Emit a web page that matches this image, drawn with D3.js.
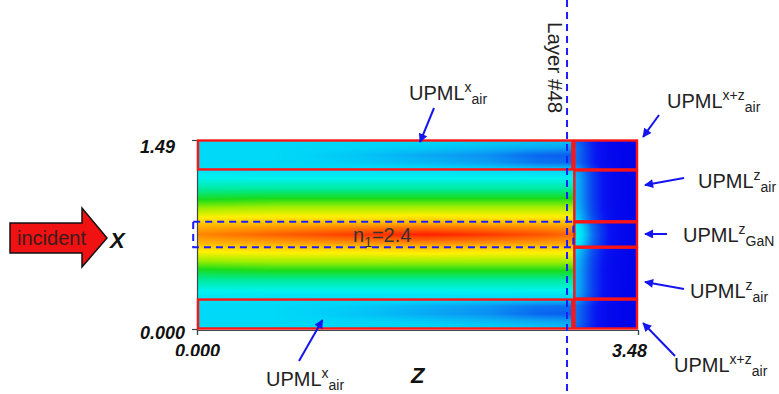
<!DOCTYPE html>
<html>
<head>
<meta charset="utf-8">
<script src="https://cdn.jsdelivr.net/npm/d3@7/dist/d3.min.js"></script>
<style>
  html, body { margin: 0; padding: 0; background: #fff; }
  svg { display: block; }
  text { font-family: "Liberation Sans", Arial, sans-serif; }
</style>
</head>
<body>
<svg id="chart" width="779" height="394"></svg>
<script>
// ---- Domain and layer geometry (µm) ----
const zDomain = [0, 3.48];
const xDomain = [0, 1.49];
const zTicks = [0, 3.48];
const xTicks = [0, 1.49];
const zTickLabels = ["0.000", "3.48"];
const xTickLabels = ["0.000", "1.49"];
const pmlStartZ = 2.97;          // start of the z-direction UPML
const layer48Z = 2.92;           // monitor plane "Layer #48"
const pmlLowX = 0.236;           // bottom x-UPML boundary
const pmlHighX = 1.254;          // top x-UPML boundary
const ganLowX = 0.645;           // GaN core lower edge
const ganHighX = 0.845;          // GaN core upper edge

// ---- Field samples: transverse profiles at several z stations ----
const xSamples = [0, 0.06, 0.12, 0.18, 0.236, 0.30, 0.38, 0.46, 0.54, 0.62, 0.68, 0.745,
                  0.81, 0.87, 0.95, 1.03, 1.11, 1.19, 1.254, 1.31, 1.37, 1.43, 1.49];
const zStations = [0, 0.6, 1.3, 1.8, 2.3, 2.7, 2.97];
const fieldZ0   = [0.35,0.35,0.35,0.35,0.37,0.40,0.45,0.51,0.58,0.66,0.73,0.78,0.73,0.66,0.58,0.51,0.45,0.40,0.37,0.35,0.35,0.35,0.35];
const fieldZ06  = [0.35,0.35,0.35,0.35,0.36,0.40,0.45,0.52,0.59,0.67,0.75,0.82,0.75,0.67,0.59,0.52,0.45,0.40,0.36,0.35,0.35,0.35,0.35];
const fieldZ13  = [0.35,0.34,0.32,0.33,0.36,0.40,0.45,0.52,0.59,0.67,0.77,0.87,0.77,0.67,0.59,0.52,0.45,0.40,0.36,0.33,0.32,0.34,0.35];
const fieldZ18  = [0.35,0.33,0.29,0.30,0.36,0.40,0.45,0.52,0.59,0.68,0.78,0.90,0.78,0.68,0.59,0.52,0.45,0.40,0.36,0.31,0.29,0.33,0.35];
const fieldZ23  = [0.34,0.31,0.26,0.27,0.35,0.40,0.45,0.52,0.59,0.67,0.77,0.87,0.77,0.67,0.59,0.52,0.45,0.40,0.35,0.28,0.26,0.31,0.34];
const fieldZ27  = [0.33,0.29,0.21,0.23,0.34,0.40,0.45,0.52,0.59,0.67,0.76,0.84,0.76,0.67,0.59,0.52,0.45,0.40,0.34,0.23,0.21,0.29,0.33];
const fieldZ297 = [0.32,0.28,0.20,0.22,0.34,0.40,0.45,0.52,0.59,0.67,0.75,0.81,0.75,0.67,0.59,0.52,0.45,0.40,0.34,0.22,0.20,0.28,0.32];
const fieldColumns = [fieldZ0, fieldZ06, fieldZ13, fieldZ18, fieldZ23, fieldZ27, fieldZ297];

// Field entering the z-UPML, and its attenuation with depth into the UPML
const pmlEntry  = [0.22,0.24,0.24,0.24,0.30,0.32,0.32,0.32,0.33,0.36,0.42,0.44,0.42,0.36,0.33,0.32,0.32,0.32,0.30,0.24,0.24,0.24,0.22];
const pmlDepth  = [0, 0.05, 0.10, 0.15, 0.22, 0.30, 0.40, 0.51];
const pmlFactor = [1, 0.88, 0.70, 0.52, 0.35, 0.20, 0.10, 0.06];

// Jet-style colour map
const colorStops = [0.00, 0.10, 0.20, 0.28, 0.34, 0.40, 0.46, 0.52, 0.58, 0.65, 0.73, 0.81, 0.90, 1.00];
const colorValues = ["#0000e8", "#0812f2", "#0a5cf0", "#0aa0f4", "#00d4f8", "#00f2f0", "#00ea94",
                     "#1adc1a", "#a0ee00", "#fff000", "#ffb400", "#ff6a00", "#ff1e00", "#e00000"];

// ---- Layout ----
const svg = d3.select("#chart");
const W = 779, H = 394;
svg.append("rect").attr("width", W).attr("height", H).attr("fill", "#fff");

const zScale = d3.scaleLinear().domain(zDomain).range([197, 638]);
const xScale = d3.scaleLinear().domain(xDomain).range([329, 140]);
const color = d3.scaleLinear().domain(colorStops).range(colorValues)
  .interpolate(d3.interpolateRgb).clamp(true);

// ---- Field map rendered to a canvas and embedded in the SVG ----
const px0 = zScale(zDomain[0]), px1 = zScale(zDomain[1]);
const py0 = xScale(xDomain[1]), py1 = xScale(xDomain[0]);
const cw = Math.round(px1 - px0), ch = Math.round(py1 - py0);
const canvas = document.createElement("canvas");
canvas.width = cw; canvas.height = ch;
const ctx = canvas.getContext("2d");
const img = ctx.createImageData(cw, ch);

const columnScales = fieldColumns.map(col => d3.scaleLinear().domain(xSamples).range(col).clamp(true));
const entryScale = d3.scaleLinear().domain(xSamples).range(pmlEntry).clamp(true);
const decayScale = d3.scaleLinear().domain(pmlDepth).range(pmlFactor).clamp(true);

for (let j = 0; j < ch; j++) {
  const x = xScale.invert(py0 + j + 0.5);
  const rowVals = columnScales.map(s => s(x));
  const zInterp = d3.scaleLinear().domain(zStations).range(rowVals).clamp(true);
  const entry = entryScale(x);
  for (let i = 0; i < cw; i++) {
    const z = zScale.invert(px0 + i + 0.5);
    const v = z <= pmlStartZ ? zInterp(z) : entry * decayScale(z - pmlStartZ);
    const c = d3.rgb(color(v));
    const k = (j * cw + i) * 4;
    img.data[k] = c.r; img.data[k + 1] = c.g; img.data[k + 2] = c.b; img.data[k + 3] = 255;
  }
}
ctx.putImageData(img, 0, 0);
svg.append("image")
  .attr("x", px0).attr("y", py0).attr("width", cw).attr("height", ch)
  .attr("preserveAspectRatio", "none")
  .attr("href", canvas.toDataURL());

// ---- Axes ----
const axisLeft = d3.axisLeft(xScale).tickValues(xTicks).tickSize(5).tickPadding(3)
  .tickFormat((d, i) => xTickLabels[i]);
const gL = svg.append("g").attr("transform", `translate(${px0},0)`).call(axisLeft);
const axisBottom = d3.axisBottom(zScale).tickValues(zTicks).tickSize(5).tickPadding(3)
  .tickFormat((d, i) => zTickLabels[i]);
const gB = svg.append("g").attr("transform", `translate(0,${py1 + 1})`).call(axisBottom);

[gL, gB].forEach(g => {
  g.select(".domain").attr("stroke", "#3a4a4e").attr("stroke-width", 1.2);
  g.selectAll(".tick line").attr("stroke", "#3a4a4e").attr("stroke-width", 1.2);
  g.selectAll(".tick text")
    .attr("font-family", "'Liberation Sans', Arial, sans-serif")
    .attr("font-size", 18).attr("font-weight", "bold").attr("font-style", "italic")
    .attr("fill", "#111");
});
gL.selectAll(".tick text")
  .attr("dx", (d, i) => i === 0 ? -4 : -14)
  .attr("dy", (d, i) => i === 0 ? "0.5em" : "0.67em");
gB.selectAll(".tick text").attr("dy", "1.05em")
  .attr("dx", (d, i) => i === 0 ? 0 : -9);

// The lower-left label sits partly under the frame edge (clip in tick-local units)
svg.append("clipPath").attr("id", "zeroClip")
  .append("rect").attr("x", -60).attr("y", -10).attr("width", 120).attr("height", 36);
gB.selectAll(".tick").filter((d, i) => i === 0).attr("clip-path", "url(#zeroClip)");

// ---- UPML / layer boxes ----
const boxes = [
  { z0: 0, z1: pmlStartZ, x0: pmlHighX, x1: xDomain[1] },
  { z0: 0, z1: pmlStartZ, x0: xDomain[0], x1: pmlLowX },
  { z0: pmlStartZ, z1: zDomain[1], x0: pmlHighX, x1: xDomain[1] },
  { z0: pmlStartZ, z1: zDomain[1], x0: ganHighX, x1: pmlHighX },
  { z0: pmlStartZ, z1: zDomain[1], x0: ganLowX, x1: ganHighX },
  { z0: pmlStartZ, z1: zDomain[1], x0: pmlLowX, x1: ganLowX },
  { z0: pmlStartZ, z1: zDomain[1], x0: xDomain[0], x1: pmlLowX }
];
svg.append("g").selectAll("rect").data(boxes).join("rect")
  .attr("x", d => zScale(d.z0) + 1)
  .attr("y", d => xScale(d.x1) + 0.5)
  .attr("width", d => zScale(d.z1) - zScale(d.z0) - 2)
  .attr("height", d => xScale(d.x0) - xScale(d.x1) - 1)
  .attr("fill", "none").attr("stroke", "#ff1414").attr("stroke-width", 2.4);

// GaN core outline (dashed)
svg.append("rect")
  .attr("x", zScale(-0.03)).attr("y", xScale(ganHighX))
  .attr("width", zScale(pmlStartZ) - zScale(-0.03))
  .attr("height", xScale(ganLowX) - xScale(ganHighX))
  .attr("fill", "none").attr("stroke", "#1c1cff").attr("stroke-width", 2)
  .attr("stroke-dasharray", "7,5");

// Layer #48 monitor plane
svg.append("line")
  .attr("x1", zScale(layer48Z)).attr("x2", zScale(layer48Z))
  .attr("y1", 0).attr("y2", H)
  .attr("stroke", "#1c1cff").attr("stroke-width", 2).attr("stroke-dasharray", "7,5");
svg.append("text")
  .attr("transform", `translate(${zScale(layer48Z) - 19},22) rotate(90)`)
  .attr("font-size", 20.5).attr("fill", "#222").text("Layer #48");

// Core index label
const nLabel = svg.append("text")
  .attr("x", 353).attr("y", 242).attr("font-size", 20).attr("fill", "#333");
nLabel.append("tspan").text("n");
nLabel.append("tspan").attr("font-size", 14).attr("dy", 5).text("1");
nLabel.append("tspan").attr("dy", -5).text("=2.4");

// ---- Axis letters ----
svg.append("text").attr("x", 110).attr("y", 248)
  .attr("font-size", 22).attr("font-weight", "bold").attr("font-style", "italic")
  .attr("fill", "#111").text("X");
svg.append("text").attr("x", 411).attr("y", 383)
  .attr("font-size", 22).attr("font-weight", "bold").attr("font-style", "italic")
  .attr("fill", "#111").text("Z");

// ---- Incident-wave arrow ----
svg.append("path")
  .attr("d", "M10,223 L82,223 L82,208 L107,238 L82,267 L82,253 L10,253 Z")
  .attr("fill", "#f01212").attr("stroke", "#111").attr("stroke-width", 1.5)
  .attr("stroke-linejoin", "miter");
svg.append("text").attr("x", 17).attr("y", 245)
  .attr("font-size", 20).attr("fill", "#3a1c1c").text("incident");

// ---- UPML callouts ----
const defs = svg.append("defs");
defs.append("marker").attr("id", "head")
  .attr("viewBox", "0 0 10 10").attr("refX", 9).attr("refY", 5)
  .attr("markerWidth", 10).attr("markerHeight", 9)
  .attr("markerUnits", "userSpaceOnUse").attr("orient", "auto")
  .append("path").attr("d", "M0,0 L10,5 L0,10 Z").attr("fill", "#1414ee");

const callouts = [
  { sup: "x",   sub: "air", tx: 409, ty: 100, tz: 1.76, txp: 1.474, ax: 434, ay: 108 },
  { sup: "x",   sub: "air", tx: 266, ty: 386, tz: 0.99, txp: 0.071, ax: 299, ay: 361 },
  { sup: "x+z", sub: "air", tx: 667, ty: 108, tz: 3.52, txp: 1.514, ax: 659, ay: 115 },
  { sup: "z",   sub: "air", tx: 698, ty: 188, tz: 3.535, txp: 1.135, ax: 684, ay: 178 },
  { sup: "z",   sub: "GaN", tx: 683, ty: 242, tz: 3.535, txp: 0.749, ax: 667, ay: 234 },
  { sup: "z",   sub: "air", tx: 690, ty: 298, tz: 3.535, txp: 0.371, ax: 684, ay: 289 },
  { sup: "x+z", sub: "air", tx: 674, ty: 372, tz: 3.52, txp: 0.047, ax: 675, ay: 356 }
];
const cg = svg.append("g");
cg.selectAll("line").data(callouts).join("line")
  .attr("x1", d => d.ax).attr("y1", d => d.ay)
  .attr("x2", d => zScale(d.tz)).attr("y2", d => xScale(d.txp))
  .attr("stroke", "#1414ee").attr("stroke-width", 2)
  .attr("marker-end", "url(#head)");
const labels = cg.selectAll("text").data(callouts).join("text")
  .attr("x", d => d.tx).attr("y", d => d.ty)
  .attr("font-size", 20).attr("fill", "#222");
labels.append("tspan").text("UPML");
labels.append("tspan").attr("font-size", 14).attr("dy", -8).text(d => d.sup);
labels.append("tspan").attr("font-size", 14).attr("dy", 12).text(d => d.sub);
</script>
</body>
</html>
